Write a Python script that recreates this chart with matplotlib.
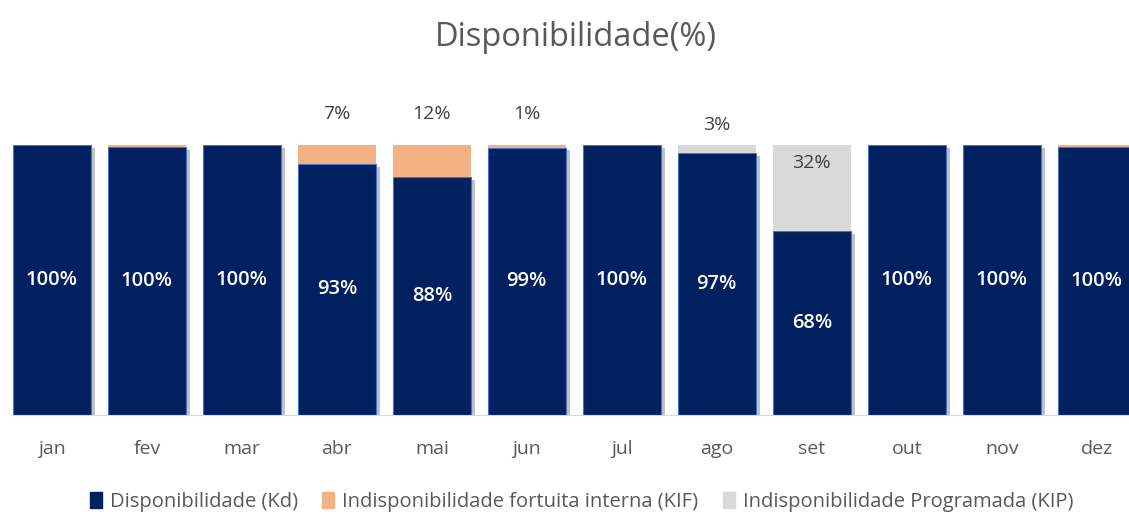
import numpy as np
import matplotlib
matplotlib.use("Agg")
import matplotlib.pyplot as plt
import matplotlib.patheffects as pe
from matplotlib.patches import Patch

months = ['jan', 'fev', 'mar', 'abr', 'mai', 'jun', 'jul', 'ago', 'set', 'out', 'nov', 'dez']
kd = [100, 99.3, 100, 93, 88, 99, 100, 97, 68, 100, 100, 99.3]
kif = [0, 0.7, 0, 7, 12, 1, 0, 0, 0, 0, 0, 0.7]
kip = [0, 0, 0, 0, 0, 0, 0, 3, 32, 0, 0, 0]
kd_labels = ['100%', '100%', '100%', '93%', '88%', '99%', '100%', '97%', '68%', '100%', '100%', '100%']
kif_labels = ['', '', '', '7%', '12%', '1%', '', '', '', '', '', '']
kip_labels = ['', '', '', '', '', '', '', '3%', '32%', '', '', '']

navy = '#002060'
orange = '#F4B183'
grey = '#D9D9D9'
txt = '#404040'

plt.rcParams['font.family'] = ['Open Sans', 'DejaVu Sans']

fig = plt.figure(figsize=(11.29, 5.15), dpi=100)
ax = fig.add_axes([12/1129, 1-415/515, 1-12/1129, 270/515])

x = np.arange(len(months))
w = 0.82
shadow = [pe.SimplePatchShadow(offset=(3, -2), alpha=0.25), pe.Normal()]
ax.bar(x, kd, w, color=navy, edgecolor='#4472C4', linewidth=0.8, path_effects=shadow)
ax.bar(x, kif, w, bottom=kd, color=orange, linewidth=0)
bot3 = np.array(kd) + np.array(kif)
ax.bar(x, kip, w, bottom=bot3, color=grey, linewidth=0)

for i in range(len(months)):
    ax.text(x[i], kd[i] / 2, kd_labels[i], ha='center', va='center',
            color='white', fontsize=14.5, fontweight='semibold')
    if kif_labels[i]:
        ax.text(x[i], 100 + 8, kif_labels[i], ha='center', va='bottom',
                color=txt, fontsize=14)
    if kip_labels[i] and kip[i] < 10:
        ax.text(x[i], 100 + 4, kip_labels[i], ha='center', va='bottom',
                color=txt, fontsize=14)
    elif kip_labels[i]:
        ax.text(x[i], 100 - 6.5, kip_labels[i], ha='center', va='center',
                color=txt, fontsize=14)

ax.set_xlim(-0.42, 11.34)
ax.set_ylim(0, 100)
ax.set_xticks(x)
ax.set_xticklabels(months, fontsize=14, color='#595959')
ax.tick_params(axis='x', length=0, pad=18)
ax.set_yticks([])
for s in ['top', 'right', 'left']:
    ax.spines[s].set_visible(False)
ax.spines['bottom'].set_color('#D9D9D9')

fig.text(0.51, 0.928, 'Disponibilidade(%)', ha='center', va='center',
         fontsize=23.5, color='#595959')

handles = [Patch(color=navy, label='Disponibilidade (Kd)'),
           Patch(color=orange, label='Indisponibilidade fortuita interna (KIF)'),
           Patch(color=grey, label='Indisponibilidade Programada (KIP)')]
fig.legend(handles=handles, loc='center', bbox_to_anchor=(0.515, 0.025),
           ncol=3, frameon=False, fontsize=14.5, labelcolor='#595959',
           handlelength=0.6, handleheight=0.8, handletextpad=0.4, columnspacing=1.2)

fig.savefig('out.png', dpi=100)
